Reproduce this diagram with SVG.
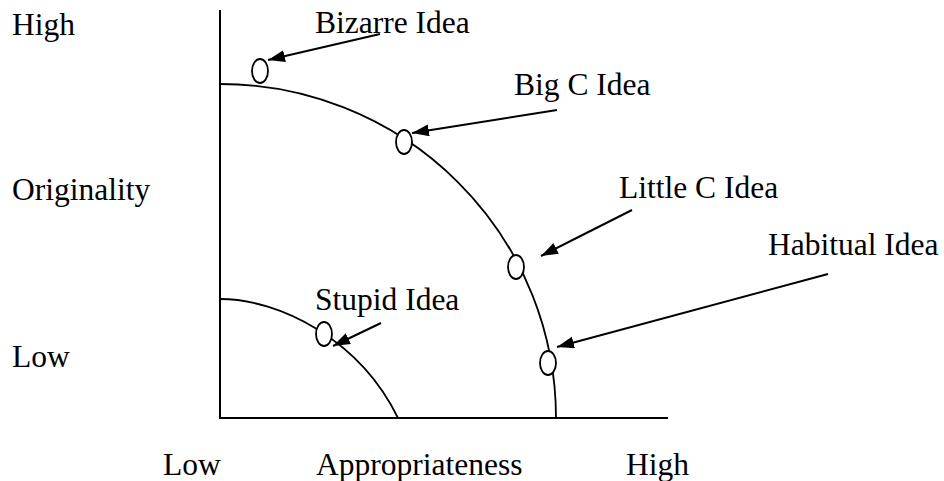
<svg xmlns="http://www.w3.org/2000/svg" width="944" height="481" viewBox="0 0 944 481">
<style>
  text { font-family: "Liberation Serif", "Times New Roman", serif; font-size: 31.5px; fill: #000; }
  .axis { stroke: #000; stroke-width: 2; fill: none; }
  .curve { stroke: #000; stroke-width: 1.8; fill: none; }
  .pt { stroke: #000; stroke-width: 1.8; fill: #fff; }
  .arrow { stroke: #000; stroke-width: 2; fill: none; marker-end: url(#head); }
</style>
<defs>
  <marker id="head" markerUnits="userSpaceOnUse" markerWidth="18" markerHeight="13" refX="17" refY="6" orient="auto">
    <path d="M0,0 L17,6 L0,12 z" fill="#000"/>
  </marker>
</defs>
<rect width="944" height="481" fill="#fff"/>
<g id="axes">
  <path class="axis" d="M220,10 V418 H668"/>
  <text x="12" y="35">High</text>
  <text x="12" y="200">Originality</text>
  <text x="12" y="367">Low</text>
  <text x="163" y="475">Low</text>
  <text x="316" y="475">Appropriateness</text>
  <text x="626" y="475">High</text>
</g>
<g id="curves">
  <path class="curve" d="M220,84 A336,334 0 0 1 556,418"/>
  <path class="curve" d="M220,299 C280,299 360,340 398,418"/>
</g>
<g id="connectors">
  <line class="arrow" x1="380" y1="34" x2="268" y2="60"/>
  <line class="arrow" x1="557" y1="110" x2="412" y2="133"/>
  <line class="arrow" x1="632" y1="210" x2="541" y2="256"/>
  <line class="arrow" x1="828" y1="274" x2="557" y2="347"/>
  <line class="arrow" x1="381" y1="323" x2="333" y2="346"/>
</g>
<g id="bizarre">
  <ellipse class="pt" cx="260" cy="71" rx="8" ry="12"/>
  <text x="315" y="33">Bizarre Idea</text>
</g>
<g id="bigc">
  <ellipse class="pt" cx="404" cy="142" rx="8" ry="12"/>
  <text x="514" y="95">Big C Idea</text>
</g>
<g id="littlec">
  <ellipse class="pt" cx="516" cy="267" rx="8" ry="12"/>
  <text x="619" y="198">Little C Idea</text>
</g>
<g id="habitual">
  <ellipse class="pt" cx="548" cy="363" rx="8" ry="12"/>
  <text x="768" y="255">Habitual Idea</text>
</g>
<g id="stupid">
  <ellipse class="pt" cx="324" cy="334" rx="8" ry="12"/>
  <text x="315" y="310">Stupid Idea</text>
</g>
</svg>
